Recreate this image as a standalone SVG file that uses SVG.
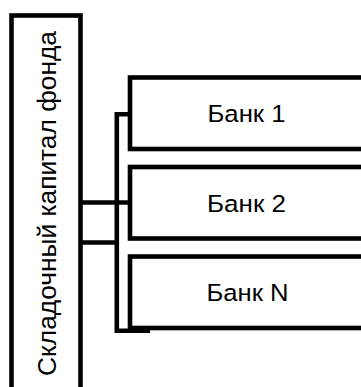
<svg xmlns="http://www.w3.org/2000/svg" width="361" height="387" viewBox="0 0 361 387">
  <style>
    .box { fill: #ffffff; stroke: #000000; stroke-width: 4.6; }
    .wire { fill: none; stroke: #000000; stroke-width: 4.6; stroke-linejoin: miter; }
    .label { font-family: "Liberation Sans", Arial, sans-serif; fill: #000000; }
    .bank { font-size: 24.5px; text-anchor: middle; }
    .fund { font-size: 26px; text-anchor: middle; }
  </style>
  <rect width="361" height="387" fill="#ffffff"/>

  <!-- fund column (runs past the bottom edge) -->
  <g id="fund">
    <rect class="box" x="11.5" y="15.5" width="69" height="390"/>
    <text class="label fund" transform="translate(55.5,203.5) rotate(-90)" textLength="345" lengthAdjust="spacingAndGlyphs">Складочный капитал фонда</text>
  </g>

  <!-- bank boxes (run past the right edge) -->
  <g id="bank1">
    <rect class="box" x="130" y="77.5" width="240" height="71.5"/>
    <text class="label bank" x="246.5" y="122" textLength="78" lengthAdjust="spacingAndGlyphs">Банк 1</text>
  </g>
  <g id="bank2">
    <rect class="box" x="130" y="167" width="240" height="71.5"/>
    <text class="label bank" x="246.5" y="211.5" textLength="79" lengthAdjust="spacingAndGlyphs">Банк 2</text>
  </g>
  <g id="bankN">
    <rect class="box" x="130" y="256.5" width="240" height="71.5"/>
    <text class="label bank" x="247.5" y="300.5" textLength="82" lengthAdjust="spacingAndGlyphs">Банк N</text>
  </g>

  <!-- connectors -->
  <g id="connectors">
    <line class="wire" x1="80.5" y1="202.5" x2="130" y2="202.5"/>
    <line class="wire" x1="80.5" y1="242.5" x2="116.5" y2="242.5"/>
    <polyline class="wire" points="130,114.3 116.8,114.3 116.8,330.8 150,330.8"/>
  </g>
</svg>
